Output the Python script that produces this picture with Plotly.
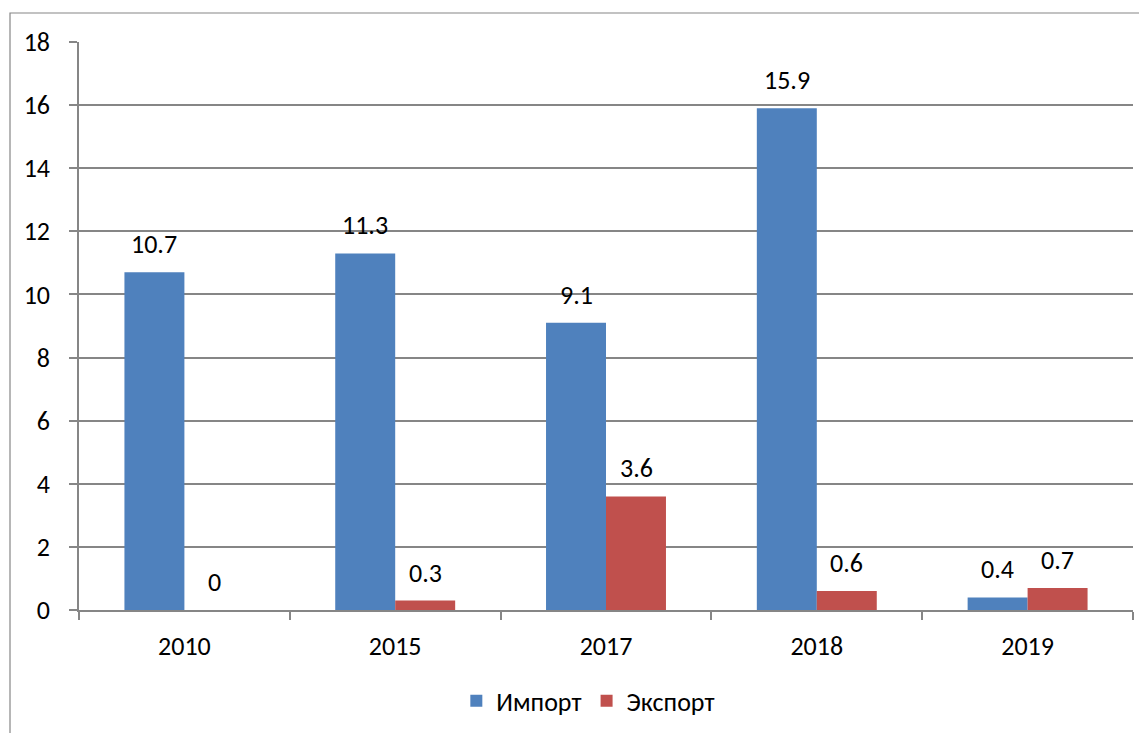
import plotly.graph_objects as go

years = ["2010", "2015", "2017", "2018", "2019"]
imports = [10.7, 11.3, 9.1, 15.9, 0.4]
exports = [0, 0.3, 3.6, 0.6, 0.7]
series_names = ["Импорт", "Экспорт"]
y_ticks = [0, 2, 4, 6, 8, 10, 12, 14, 16, 18]

BLUE = "#4F81BD"
RED = "#C0504D"
GRID = "#868686"
FONT = "Calibri, Carlito, Liberation Sans, Arial, sans-serif"
FS = 26

# page body keeps its default 8px margin; figure is sized so the plot lands where the reference has it
W, H = 1139, 725
ML, MR, MT, MB = 71, 14, 34, 123
PW, PH = W - ML - MR, H - MT - MB

fig = go.Figure()
fig.add_trace(go.Bar(x=years, y=imports, name=series_names[0],
                     marker=dict(color=BLUE, line=dict(width=0))))
fig.add_trace(go.Bar(x=years, y=exports, name=series_names[1],
                     marker=dict(color=RED, line=dict(width=0))))

annotations = []
for vals, shift in ((imports, -30), (exports, 30)):
    for i, v in enumerate(vals):
        annotations.append(dict(x=i, y=v, xref="x", yref="y", text=f"{v:g}",
                                showarrow=False, xshift=shift, yshift=28,
                                yanchor="middle", font=dict(size=FS, color="#000000", family=FONT)))

fig.update_layout(
    width=W, height=H,
    margin=dict(l=ML, r=MR, t=MT, b=MB, autoexpand=False),
    paper_bgcolor="white", plot_bgcolor="white",
    font=dict(family=FONT, size=FS, color="#000000"),
    barmode="group", bargap=0.431, bargroupgap=0,
    showlegend=True,
    legend=dict(orientation="h", x=0.358, xanchor="left", y=-0.160, yanchor="middle",
                font=dict(size=FS, family=FONT), traceorder="normal",
                itemwidth=30, bgcolor="rgba(0,0,0,0)"),
    annotations=annotations,
    shapes=[dict(type="rect", xref="paper", yref="paper",
                 x0=(2 - ML) / PW, x1=(W + 40 - ML) / PW,
                 y0=-(MB + 60) / PH, y1=1 + (MT - 5) / PH,
                 line=dict(color=GRID, width=1.2), fillcolor="rgba(0,0,0,0)", layer="below")],
)
fig.update_xaxes(type="category", categoryorder="array", categoryarray=years,
                 range=[-0.5, len(years) - 0.5], autorange=False, automargin=False,
                 showgrid=False, showline=True, linecolor=GRID, linewidth=1.5,
                 ticks="outside", tickson="boundaries", ticklen=8, tickcolor=GRID, tickwidth=1.5,
                 ticklabelstandoff=12, tickangle=0, zeroline=False)
fig.update_yaxes(range=[0, 18], tickvals=y_ticks, showgrid=True, gridcolor=GRID, gridwidth=1.5,
                 automargin=False,
                 showline=True, linecolor=GRID, linewidth=1.5, ticks="outside", ticklen=8,
                 tickcolor=GRID, tickwidth=1.5, ticklabelstandoff=14, zeroline=False)

fig.write_html("out.html", config={"displayModeBar": False})
